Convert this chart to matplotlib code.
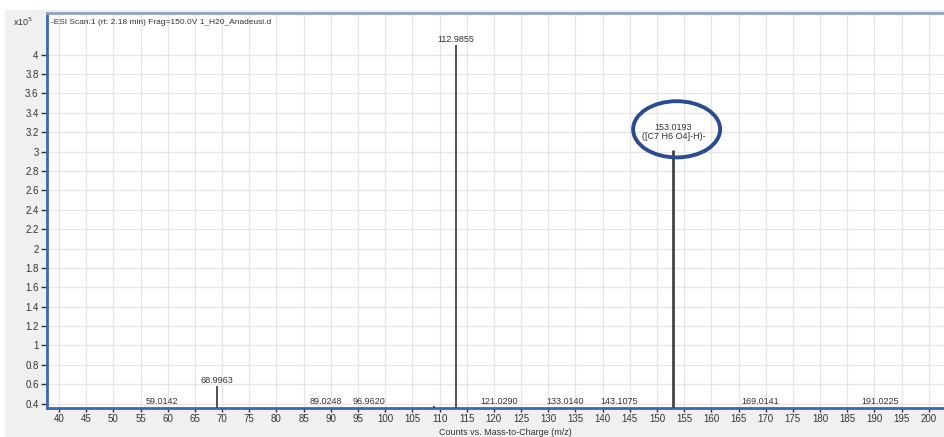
import numpy as np
import matplotlib
matplotlib.use("Agg")
import matplotlib.pyplot as plt
from matplotlib.patches import Ellipse, Rectangle

plt.rcParams['font.family'] = ['Liberation Sans', 'DejaVu Sans']

# spectrum peaks (m/z, counts x10^5)
mz = [59.0142, 68.9963, 89.0248, 96.9620, 109.05, 112.9855, 121.0290,
      133.0140, 143.1075, 153.0193, 169.0141, 191.0225]
counts = [0.36, 0.58, 0.36, 0.36, 0.38, 4.10, 0.36,
          0.36, 0.36, 3.02, 0.36, 0.36]
peak_labels = ["59.0142", "68.9963", "89.0248", "96.9620", None, "112.9855", "121.0290",
               "133.0140", "143.1075", "153.0193\n([C7 H6 O4]-H)-", "169.0141", "191.0225"]
highlight = "153.0193"

x_ticks = list(range(40, 205, 5))
y_ticks = [0.4, 0.6, 0.8, 1, 1.2, 1.4, 1.6, 1.8, 2, 2.2, 2.4, 2.6, 2.8,
           3, 3.2, 3.4, 3.6, 3.8, 4]

title = "-ESI Scan:1 (rt: 2.18 min) Frag=150.0V 1_H20_Anadeusi.d"
xlabel = "Counts vs. Mass-to-Charge (m/z)"

W, H = 944, 437
fig = plt.figure(figsize=(W / 100, H / 100), dpi=100, facecolor='white')
# grey panel behind the plot
fig.patches.append(Rectangle((5 / W, 0), 1, 1 - 10 / H, transform=fig.transFigure,
                             facecolor='#f0f0f0', edgecolor='none', zorder=-10))

ax = fig.add_axes([47 / W, (H - 408) / H, (W - 47) / W, (408 - 13) / H])
ax.set_facecolor('white')
ax.set_xlim(37.8, 202.8)
ax.set_ylim(0.355, 4.43)

ax.set_xticks(x_ticks)
ax.set_xticklabels([str(t) for t in x_ticks])
ax.set_yticks(y_ticks)
ax.set_yticklabels(["%g" % t for t in y_ticks])
ax.tick_params(axis='both', labelsize=7, colors='#333333', length=4, width=1, pad=2)
ax.tick_params(axis='x', length=3, pad=1)
ax.grid(True, color='#e6e6e6', linewidth=1)
ax.set_axisbelow(True)

for side in ['left', 'bottom']:
    ax.spines[side].set_color('#3f66b3')
    ax.spines[side].set_linewidth(2)
ax.spines['top'].set_color('#8ea2c9')
ax.spines['top'].set_linewidth(2)
ax.spines['right'].set_visible(False)

for m, c, lab in zip(mz, counts, peak_labels):
    is_hl = lab is not None and lab.startswith(highlight)
    lw = 2.0 if is_hl else 1.3
    ax.vlines(m, 0, c, color='#444444', linewidth=lw, zorder=3)
    if lab is None:
        continue
    off = 6 if is_hl else 1
    ax.annotate(lab, (m, c), xytext=(0, off), textcoords='offset points',
                ha='center', va='bottom', fontsize=6.5, color='#333333',
                linespacing=1.0, zorder=4)
    if is_hl:
        ax.add_patch(Ellipse((m + 0.6, c + 0.21), 16, 0.58, fill=False,
                             edgecolor='#2a4b8f', linewidth=2.8, zorder=5))

ax.text(0.004, 1 - 9 / 395, title, transform=ax.transAxes, ha='left', va='center',
        fontsize=6, color='#333333')
fig.text(13 / W, 1 - 22 / H, r'x10$^{5}$', ha='left', va='center', fontsize=6.5,
         color='#333333')
fig.text(505 / W, 0, xlabel, ha='center', va='bottom', fontsize=6.5, color='#333333')

fig.savefig('out.png', dpi=100, facecolor=fig.get_facecolor())
